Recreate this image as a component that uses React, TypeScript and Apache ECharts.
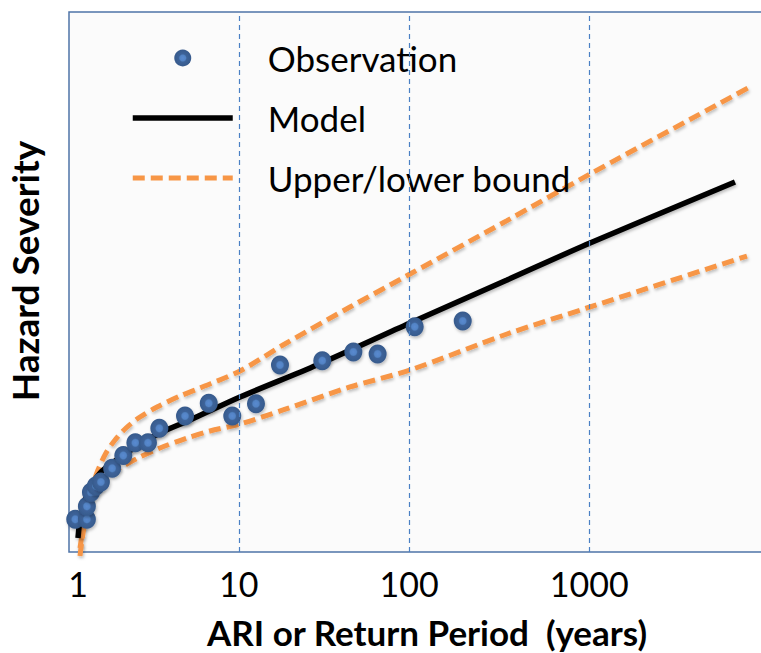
import React, { useEffect, useRef } from "react";
import * as echarts from "echarts";

// Return-period ticks shown on the horizontal axis (years)
const ARI_TICKS = [1, 10, 100, 1000];

// Observed events: average recurrence interval (years) and severity
const obsARI = [0.96, 1.14, 1.14, 1.21, 1.3, 1.4, 1.65, 1.94, 2.31, 2.77, 3.26, 4.7, 6.57, 9.13, 12.69, 17.66, 31.4, 47.7, 65.9, 107.5, 200.9];
const obsSeverity = [6.06, 6.06, 8.46, 11.06, 12.22, 12.96, 15.5, 17.87, 20.22, 20.22, 22.9, 25.19, 27.54, 25.19, 27.46, 34.63, 35.43, 37.04, 36.67, 41.72, 42.78];

// Fitted model curve
const modelARI = [1.0, 1.03, 1.093, 1.193, 1.382, 1.72, 2.298, 3.291, 5.043, 10.17, 29.24, 101.1, 354.7, 1010, 5934];
const modelSeverity = [2.6, 5.93, 9.07, 11.85, 14.63, 16.85, 19.35, 22.04, 24.44, 28.7, 34.63, 42.41, 50.37, 57.22, 68.52];

// Confidence bounds around the model
const upperARI = [1.03, 1.077, 1.142, 1.229, 1.342, 1.508, 1.72, 2.018, 2.47, 3.154, 4.378, 5.809, 10.17, 18.41, 45.6, 101.1, 354.7, 1010, 6934];
const upperSeverity = [0.74, 4.44, 8.15, 11.85, 15.19, 18.33, 20.74, 22.96, 25.0, 26.85, 28.89, 30.37, 33.52, 38.33, 45.37, 51.48, 61.37, 70.0, 85.93];
const lowerARI = [1.03, 1.061, 1.109, 1.193, 1.303, 1.465, 1.67, 1.989, 2.47, 3.291, 4.834, 6.686, 10.17, 18.41, 45.6, 101.1, 354.7, 1010, 6850];
const lowerSeverity = [-0.74, 2.22, 5.56, 9.07, 11.48, 13.52, 14.81, 16.11, 17.59, 19.26, 21.11, 22.41, 23.7, 26.3, 30.56, 33.7, 40.37, 45.37, 54.81];

// Plotting position for a return period: log-like, slightly stretched toward long ARIs
const ariPos = (t: number) => {
  const L = Math.log10(t);
  return 156 * L + 4.8 * L * L;
};

const toPairs = (xs: number[], ys: number[]) => xs.map((x, i) => [ariPos(x), ys[i]]);

const FONT = "Lato, 'Open Sans', sans-serif";
const ORANGE = "#f79646";
// Legend keys for the line series show only the stroke, not a symbol
const NO_SYMBOL = { color: "rgba(0,0,0,0)", borderColor: "rgba(0,0,0,0)", borderWidth: 0 };

export default function App() {
  const ref = useRef<HTMLDivElement>(null);

  useEffect(() => {
    if (!ref.current) return;
    const chart = echarts.init(ref.current, null, { renderer: "svg" });

    const tickPositions = ARI_TICKS.map(ariPos);
    const labelFor = (v: number) => {
      const i = tickPositions.findIndex((p) => Math.abs(p - v) < 1e-6);
      return i >= 0 ? String(ARI_TICKS[i]) : "";
    };

    const lineShadow = {
      shadowColor: "rgba(0,0,0,0.25)",
      shadowBlur: 3,
      shadowOffsetX: 1,
      shadowOffsetY: 2,
    };

    const boundStyle = {
      color: ORANGE,
      width: 5,
      type: [12, 6] as any,
      ...lineShadow,
    };
    const modelStyle = { color: "#000", width: 5.5, ...lineShadow };

    chart.setOption({
      animation: false,
      backgroundColor: "#ffffff",
      grid: {
        left: 69,
        top: 12,
        width: 694,
        height: 540,
        outerBoundsMode: "none",
        containLabel: false,
        show: true,
        backgroundColor: "#fbfbfb",
        borderColor: "#4f74a8",
        borderWidth: 1.5,
      },
      legend: {
        orient: "vertical",
        left: 130,
        top: 38,
        padding: 0,
        itemWidth: 100,
        itemHeight: 17,
        itemGap: 20,
        selectedMode: false,
        lineStyle: { width: 5, opacity: 1 },
        textStyle: {
          fontFamily: FONT,
          fontSize: 35,
          color: "#000",
          lineHeight: 40,
          padding: [0, 0, 0, 30],
        },
        data: [
          { name: "Observation", icon: "circle" },
          { name: "Model", itemStyle: NO_SYMBOL, lineStyle: { width: 5.5, opacity: 1 } },
          { name: "Upper/lower bound", itemStyle: NO_SYMBOL, lineStyle: { width: 5, opacity: 1 } },
        ],
      },
      xAxis: {
        type: "value",
        min: -9,
        max: 685,
        axisLine: { show: false },
        axisTick: { show: false },
        splitLine: { show: false },
        axisLabel: {
          customValues: tickPositions,
          formatter: (v: number) => labelFor(v),
          fontFamily: FONT,
          fontSize: 34,
          color: "#000",
          margin: 14,
        },
        name: "ARI or Return Period  (years)",
        nameLocation: "middle",
        nameGap: 62,
        nameTextStyle: {
          fontFamily: FONT,
          fontSize: 35,
          fontWeight: "bold",
          color: "#000",
          padding: [0, 0, 0, 22],
        },
      },
      yAxis: {
        type: "value",
        min: 0,
        max: 100,
        axisLine: { show: false },
        axisTick: { show: false },
        axisLabel: { show: false },
        splitLine: { show: false },
        name: "Hazard Severity",
        nameLocation: "middle",
        nameGap: 26,
        nameTextStyle: {
          fontFamily: FONT,
          fontSize: 37,
          fontWeight: "bold",
          color: "#000",
          padding: [0, 0, 0, 22],
        },
      },
      series: [
        {
          name: "Upper/lower bound",
          type: "line",
          data: toPairs(upperARI, upperSeverity),
          smooth: 0.3,
          symbol: "none",
          itemStyle: { color: ORANGE },
          lineStyle: boundStyle,
          z: 2,
          markLine: {
            silent: true,
            symbol: "none",
            label: { show: false },
            lineStyle: { color: "#4a80c4", width: 1.2, type: [5, 4] },
            data: tickPositions.slice(1).map((p) => ({ xAxis: p })),
          },
        },
        {
          name: "Upper/lower bound",
          type: "line",
          data: toPairs(lowerARI, lowerSeverity),
          smooth: 0.3,
          symbol: "none",
          clip: false,
          itemStyle: { color: ORANGE },
          lineStyle: boundStyle,
          z: 2,
        },
        {
          name: "Model",
          type: "line",
          data: toPairs(modelARI, modelSeverity),
          smooth: 0.3,
          symbol: "none",
          itemStyle: { color: "#000" },
          lineStyle: modelStyle,
          z: 3,
        },
        {
          name: "Observation",
          type: "scatter",
          data: toPairs(obsARI, obsSeverity),
          symbol: "circle",
          symbolSize: [18, 19],
          itemStyle: {
            opacity: 1,
            color: {
              type: "radial",
              x: 0.5,
              y: 0.5,
              r: 0.5,
              colorStops: [
                { offset: 0, color: "#5a8ad0" },
                { offset: 0.34, color: "#5283c4" },
                { offset: 0.48, color: "#3d6399" },
                { offset: 1, color: "#375a8c" },
              ],
            },
            shadowColor: "rgba(0,0,0,0.25)",
            shadowBlur: 3,
            shadowOffsetX: 1,
            shadowOffsetY: 2,
          },
          z: 4,
        },
      ],
    });

    return () => chart.dispose();
  }, []);

  return (
    <div
      ref={ref}
      style={{ position: "fixed", left: 0, top: 0, width: 761, height: 653 }}
    />
  );
}
